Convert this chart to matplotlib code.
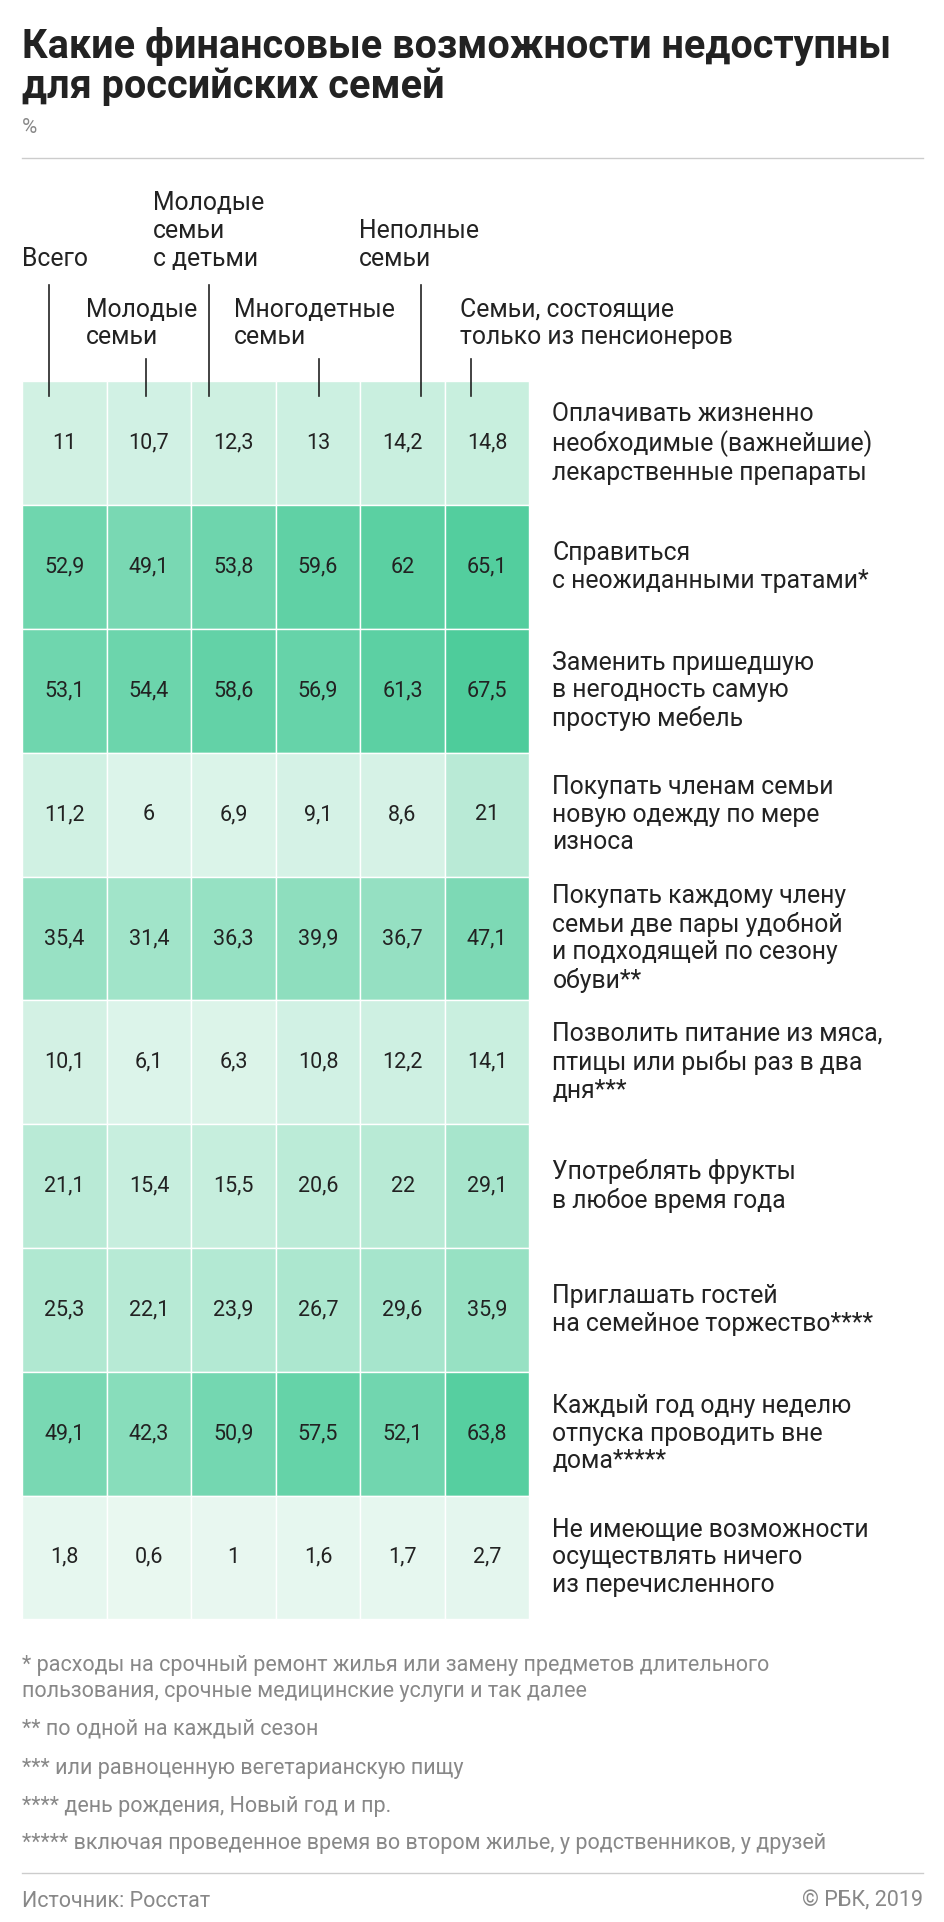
import matplotlib
matplotlib.use("Agg")
import matplotlib.pyplot as plt
from matplotlib.patches import Rectangle
from matplotlib.colors import LinearSegmentedColormap

plt.rcParams["font.family"] = "Roboto"

groups = ["Всего", "Молодые\nсемьи", "Молодые\nсемьи\nс детьми", "Многодетные\nсемьи",
          "Неполные\nсемьи", "Семьи, состоящие\nтолько из пенсионеров"]
rows = [
    "Оплачивать жизненно\nнеобходимые (важнейшие)\nлекарственные препараты",
    "Справиться\nс неожиданными тратами*",
    "Заменить пришедшую\nв негодность самую\nпростую мебель",
    "Покупать членам семьи\nновую одежду по мере\nизноса",
    "Покупать каждому члену\nсемьи две пары удобной\nи подходящей по сезону\nобуви**",
    "Позволить питание из мяса,\nптицы или рыбы раз в два\nдня***",
    "Употреблять фрукты\nв любое время года",
    "Приглашать гостей\nна семейное торжество****",
    "Каждый год одну неделю\nотпуска проводить вне\nдома*****",
    "Не имеющие возможности\nосуществлять ничего\nиз перечисленного",
]
values = [
    [11, 10.7, 12.3, 13, 14.2, 14.8],
    [52.9, 49.1, 53.8, 59.6, 62, 65.1],
    [53.1, 54.4, 58.6, 56.9, 61.3, 67.5],
    [11.2, 6, 6.9, 9.1, 8.6, 21],
    [35.4, 31.4, 36.3, 39.9, 36.7, 47.1],
    [10.1, 6.1, 6.3, 10.8, 12.2, 14.1],
    [21.1, 15.4, 15.5, 20.6, 22, 29.1],
    [25.3, 22.1, 23.9, 26.7, 29.6, 35.9],
    [49.1, 42.3, 50.9, 57.5, 52.1, 63.8],
    [1.8, 0.6, 1, 1.6, 1.7, 2.7],
]
footnotes = [
    "* расходы на срочный ремонт жилья или замену предметов длительного\nпользования, срочные медицинские услуги и так далее",
    "** по одной на каждый сезон",
    "*** или равноценную вегетарианскую пищу",
    "**** день рождения, Новый год и пр.",
    "***** включая проведенное время во втором жилье, у родственников, у друзей",
]

fig = plt.figure(figsize=(9.45, 19.22), dpi=100)
ax = fig.add_axes([0, 0, 1, 1])
ax.set_xlim(0, 768)
ax.set_ylim(1562, 0)
ax.axis("off")

cmap = LinearSegmentedColormap.from_list("g", ["#eaf8f1", "#4dcc9b"])
dark = "#222222"
grey = "#888888"

ax.text(18, 22, "Какие финансовые возможности недоступны\nдля российских семей", fontsize=28.5,
        fontweight="bold", va="top", ha="left", color=dark, linespacing=1.05)
ax.text(18, 104, "%", fontsize=15, color=grey, va="center")
ax.plot([18, 750], [128, 128], color="#cccccc", lw=1)

x0, cw, y0, rh = 18, 68.7, 310, 100.6
for i, row in enumerate(values):
    for j, v in enumerate(row):
        ax.add_patch(Rectangle((x0 + j * cw, y0 + i * rh), cw, rh,
                               facecolor=cmap(v / 68), edgecolor="white", lw=1))
        ax.text(x0 + (j + 0.5) * cw, y0 + (i + 0.5) * rh, f"{v:g}".replace(".", ","),
                ha="center", va="center", fontsize=15.5, color=dark)
    ax.text(449, y0 + (i + 0.5) * rh, rows[i], ha="left", va="center", fontsize=17.8,
            color=dark, linespacing=1.2)

hdr = [(40, 18, 220, 232), (119, 70, 284, 292), (170, 124, 220, 232),
       (259, 190, 284, 292), (342, 292, 220, 232), (383, 374, 284, 292)]
for (lx, tx, ty, lt), g in zip(hdr, groups):
    ax.text(tx, ty, g, ha="left", va="bottom", fontsize=17.8, color=dark, linespacing=1.2)
    ax.plot([lx, lx], [lt, 322], color=dark, lw=1.2)

fy = [1345, 1405, 1437, 1468, 1498]
for y, f in zip(fy, footnotes):
    ax.text(18, y, f, ha="left", va="center" if "\n" not in f else "top", fontsize=15.5,
            color=grey, linespacing=1.3)
ax.plot([18, 750], [1522, 1522], color="#cccccc", lw=1)
ax.text(18, 1545, "Источник: Росстат", fontsize=15.5, color=grey, va="center")
ax.text(750, 1545, "© РБК, 2019", fontsize=15.5, color=grey, va="center", ha="right")

fig.savefig("out.png", dpi=100)
